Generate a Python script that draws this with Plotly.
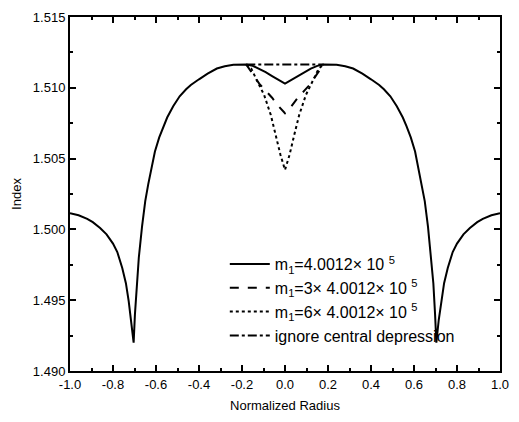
import plotly.graph_objects as go

# Main profile (m1 = 4.0012e5)
r_main = [-1.0, -0.96, -0.92, -0.894, -0.86, -0.83, -0.8, -0.78, -0.757, -0.74, -0.727, -0.715, -0.704,
          -0.698, -0.69, -0.68, -0.665, -0.65, -0.636, -0.62, -0.605, -0.585, -0.565, -0.548, -0.52,
          -0.49, -0.46, -0.438, -0.4, -0.36, -0.317, -0.28, -0.24, -0.18,
          -0.15, -0.12, -0.09, -0.06, -0.03, 0.0, 0.03, 0.06, 0.09, 0.12, 0.15,
          0.18, 0.24, 0.28, 0.317, 0.36, 0.4, 0.438, 0.46, 0.49, 0.52, 0.548, 0.565, 0.585, 0.605,
          0.62, 0.636, 0.65, 0.665, 0.68, 0.69, 0.698,
          0.704, 0.715, 0.727, 0.74, 0.757, 0.78, 0.8, 0.83, 0.86, 0.894, 0.92, 0.96, 1.0]
n_main = [1.50115, 1.50100, 1.50075, 1.50051, 1.50010, 1.49965, 1.49900, 1.49840, 1.49728, 1.49620, 1.49493, 1.49360, 1.49200,
          1.49400, 1.49620, 1.49800, 1.50020, 1.50200, 1.50320, 1.50440, 1.50550, 1.50650, 1.50730, 1.50790, 1.50870,
          1.50940, 1.50990, 1.51020, 1.51060, 1.51100, 1.51136, 1.51152, 1.51162, 1.51164,
          1.51155, 1.51135, 1.51110, 1.51083, 1.51056, 1.51030, 1.51056, 1.51083, 1.51110, 1.51135, 1.51155,
          1.51164, 1.51162, 1.51152, 1.51136, 1.51100, 1.51060, 1.51020, 1.50990, 1.50940, 1.50870, 1.50790, 1.50730, 1.50650, 1.50550,
          1.50440, 1.50320, 1.50200, 1.50020, 1.49800, 1.49620, 1.49400,
          1.49200, 1.49360, 1.49493, 1.49620, 1.49728, 1.49840, 1.49900, 1.49965, 1.50010, 1.50051, 1.50075, 1.50100, 1.50115]

# m1 = 3 x 4.0012e5 (central part)
r_m3 = [-0.18, -0.15, -0.12, -0.09, -0.06, -0.03, 0.0, 0.03, 0.06, 0.09, 0.12, 0.15, 0.18]
n_m3 = [1.51164, 1.51100, 1.51030, 1.50980, 1.50930, 1.50870, 1.50820, 1.50870, 1.50930, 1.50980, 1.51030, 1.51100, 1.51164]

# m1 = 6 x 4.0012e5 (central part)
r_m6 = [-0.18, -0.157, -0.13, -0.097, -0.066, -0.043, -0.021, 0.0, 0.021, 0.043, 0.066, 0.097, 0.13, 0.157, 0.18]
n_m6 = [1.51164, 1.51136, 1.51050, 1.50949, 1.50808, 1.50667, 1.50526, 1.50420, 1.50526, 1.50667, 1.50808, 1.50949, 1.51050, 1.51136, 1.51164]

# ignore central depression
r_ign = [-0.18, 0.18]
n_ign = [1.51165, 1.51165]

names = ["m<sub>1</sub>=4.0012× 10 <sup>5</sup>",
         "m<sub>1</sub>=3× 4.0012× 10 <sup>5</sup>",
         "m<sub>1</sub>=6× 4.0012× 10 <sup>5</sup>",
         "ignore central depression"]

x_tickvals = [-1.0, -0.8, -0.6, -0.4, -0.2, 0.0, 0.2, 0.4, 0.6, 0.8, 1.0]
x_ticktext = ["-1.0", "-0.8", "-0.6", "-0.4", "-0.2", "0.0", "0.2", "0.4", "0.6", "0.8", "1.0"]
y_tickvals = [1.490, 1.495, 1.500, 1.505, 1.510, 1.515]
y_ticktext = ["1.490", "1.495", "1.500", "1.505", "1.510", "1.515"]

FONT = "Liberation Sans, Arial, sans-serif"

fig = go.Figure()
fig.add_trace(go.Scatter(x=r_main, y=n_main, mode="lines", name=names[0],
                         line=dict(color="black", width=2, dash="solid")))
fig.add_trace(go.Scatter(x=r_m3, y=n_m3, mode="lines", name=names[1],
                         line=dict(color="black", width=2, dash="dash")))
fig.add_trace(go.Scatter(x=r_m6, y=n_m6, mode="lines", name=names[2],
                         line=dict(color="black", width=2, dash="dot")))
fig.add_trace(go.Scatter(x=r_ign, y=n_ign, mode="lines", name=names[3],
                         line=dict(color="black", width=2, dash="dashdot")))

axis_common = dict(showline=True, linecolor="black", linewidth=2, mirror="ticks",
                   ticks="inside", ticklen=6, tickwidth=2, tickcolor="black",
                   showgrid=False, zeroline=False,
                   tickfont=dict(family=FONT, size=13, color="black"))

fig.update_xaxes(range=[-1.0, 1.0], tickvals=x_tickvals, ticktext=x_ticktext,
                 title=dict(text="Normalized Radius", font=dict(family=FONT, size=13, color="black"), standoff=10),
                 minor=dict(ticks="inside", ticklen=3, tickwidth=1.5, tickcolor="black", dtick=0.1, tick0=-1.0),
                 **axis_common)
fig.update_yaxes(range=[1.490, 1.515], tickvals=y_tickvals, ticktext=y_ticktext,
                 title=dict(text="Index", font=dict(family=FONT, size=13, color="black"), standoff=8),
                 minor=dict(ticks="inside", ticklen=3, tickwidth=1.5, tickcolor="black", dtick=0.0025, tick0=1.490),
                 **axis_common)

fig.update_layout(
    width=519, height=422,
    margin=dict(l=70, r=10, t=15, b=51),
    plot_bgcolor="white", paper_bgcolor="white",
    font=dict(family=FONT, color="black"),
    legend=dict(x=0.36, y=0.35, xanchor="left", yanchor="top",
                bgcolor="rgba(0,0,0,0)", borderwidth=0,
                font=dict(family=FONT, size=16, color="black"),
                itemwidth=40, tracegroupgap=0),
)

fig.write_html("out.html")
